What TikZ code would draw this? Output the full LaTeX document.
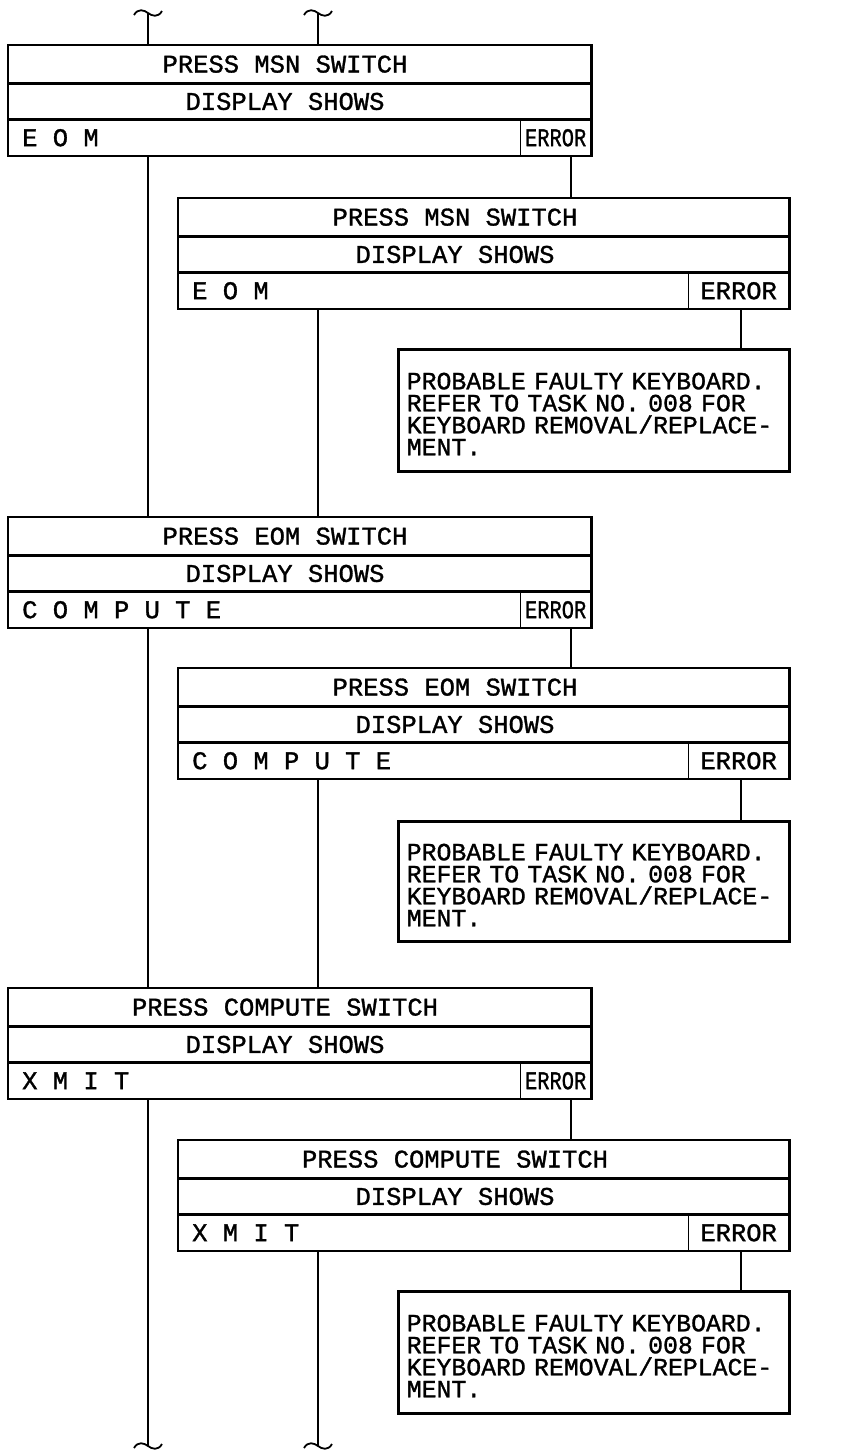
\documentclass[tikz,border=0pt]{standalone}
\usepackage{fontspec}
\usepackage{graphicx}
\usetikzlibrary{calc}
\newfontfamily\lmono[FakeBold=1.2]{Liberation Mono}
\newcommand\boxfont{\lmono\fontsize{25.5}{28}\selectfont}
\newcommand\notefont{\lmono\fontsize{24.8}{22}\selectfont}
\tikzset{
  cell/.style={draw, line width=1.3pt, inner sep=0pt, font=\boxfont},
  txt/.style={inner sep=0pt, font=\boxfont},
  frame/.style={draw, line width=2.6pt},
  lane/.style={line width=1.8pt},
  notebox/.style={draw, line width=2.6pt, anchor=north west, minimum width=391pt,
    inner xsep=8.5pt, inner ysep=0pt, text width=374pt, align=left, font=\notefont},
}
\newcommand\decbox[8]{%
  \pgfmathsetmacro\resw{#4-#5}%
  \node[cell, anchor=north west, minimum width=#4pt, minimum height=37pt] (#1t) at (#2,#3) {};
  \node[cell, anchor=north west, minimum width=#4pt, minimum height=35pt] (#1d) at (#1t.south west) {};
  \node[cell, anchor=north west, minimum width=\resw pt, minimum height=35pt] (#1r) at (#1d.south west) {};
  \node[cell, anchor=north east, minimum width=#5pt, minimum height=35pt] (#1e) at (#1d.south east) {#8};
  \draw[frame] (#1t.north west) rectangle (#1e.south east);
  \node[txt] (#1tt) at ($(#1t.west)+(277,0)$) {#6};
  \node[txt] (#1dt) at ($(#1d.west)+(277,0)$) {DISPLAY SHOWS};
  \node[txt, anchor=west] (#1rt) at ($(#1r.west)+(14,0)$) {#7};
}
\newcommand\errnarrow{\scalebox{0.8}[1]{ERROR}}
\newcommand\notetext{\rule{0pt}{24pt}PROBABLE FAULTY KEYBOARD.\\
REFER TO TASK NO. 008 FOR\\
KEYBOARD REMOVAL/REPLACE-\\
MENT.}
\newcommand\tildeat[1]{%
  \draw[lane] ($(#1)+(-14,2)$) .. controls ($(#1)+(-10,-5)$) and ($(#1)+(-4,-3)$) .. (#1)
    .. controls ($(#1)+(4,3)$) and ($(#1)+(10,5)$) .. ($(#1)+(14,-2)$);
}
\begin{document}
\begin{tikzpicture}[x=1pt,y=-1pt]
\useasboundingbox[fill=white] (0,0) rectangle (850,1452);
\decbox{b1}{8}{45}{582}{70}{PRESS MSN SWITCH}{E O M}{\errnarrow}
\decbox{b2}{178}{198}{610}{100}{PRESS MSN SWITCH}{E O M}{ERROR}
\node[notebox, minimum height=122pt] (n1) at (397,348) {\notetext};
\decbox{b4}{8}{517}{582}{70}{PRESS EOM SWITCH}{C O M P U T E}{\errnarrow}
\decbox{b5}{178}{668}{610}{100}{PRESS EOM SWITCH}{C O M P U T E}{ERROR}
\node[notebox, minimum height=120pt] (n2) at (397,820) {\notetext};
\decbox{b7}{8}{988}{582}{70}{PRESS COMPUTE SWITCH}{X M I T}{\errnarrow}
\decbox{b8}{178}{1140}{610}{100}{PRESS COMPUTE SWITCH}{X M I T}{ERROR}
\node[notebox, minimum height=122pt] (n3) at (397,1290) {\notetext};
% lanes
\coordinate (tA) at (148,13);
\coordinate (tB) at (318,13);
\coordinate (bA) at (148,1446);
\coordinate (bB) at (318,1446);
\coordinate (eA) at (571,0);
\coordinate (eB) at (741,0);
\draw[lane] (tA) -- (tA |- b1t.north);
\draw[lane] (tB) -- (tB |- b1t.north);
\draw[lane] (b1r.south -| tA) -- (b4t.north -| tA);
\draw[lane] (b1e.south -| eA) -- (b2t.north -| eA);
\draw[lane] (b2e.south -| eB) -- (n1.north -| eB);
\draw[lane] (b2r.south -| tB) -- (b4t.north -| tB);
\draw[lane] (b4r.south -| tA) -- (b7t.north -| tA);
\draw[lane] (b4e.south -| eA) -- (b5t.north -| eA);
\draw[lane] (b5e.south -| eB) -- (n2.north -| eB);
\draw[lane] (b5r.south -| tB) -- (b7t.north -| tB);
\draw[lane] (b7r.south -| tA) -- (bA);
\draw[lane] (b7e.south -| eA) -- (b8t.north -| eA);
\draw[lane] (b8e.south -| eB) -- (n3.north -| eB);
\draw[lane] (b8r.south -| tB) -- (bB);
\tildeat{tA}
\tildeat{tB}
\tildeat{bA}
\tildeat{bB}
\end{tikzpicture}
\end{document}
